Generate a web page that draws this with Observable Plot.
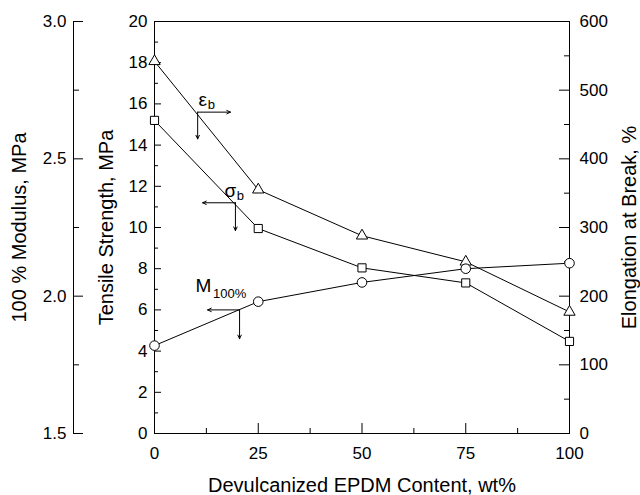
<!DOCTYPE html>
<html>
<head>
<meta charset="utf-8">
<script src="https://cdn.jsdelivr.net/npm/d3@7"></script>
<script src="https://cdn.jsdelivr.net/npm/@observablehq/plot@0.6"></script>
<style>
  html, body { margin: 0; padding: 0; background: #fff; }
  svg { display: block; }
</style>
</head>
<body>
<div id="chart"></div>
<script>
// ---- data ----
const content = [0, 25, 50, 75, 100];                 // Devulcanized EPDM content, wt%
const elongation = [542, 355, 288, 250, 177];         // Elongation at break, % (right axis)
const tensile = [15.2, 9.95, 8.04, 7.31, 4.47];       // Tensile strength, MPa (left inner axis)
const modulus = [1.82, 1.98, 2.05, 2.10, 2.12];       // 100 % modulus, MPa (left outer axis)

// ---- tick labels ----
const xTicks = [0, 25, 50, 75, 100];
const xMinor = [12.5, 37.5, 62.5, 87.5];
const tensileTicks = [0, 2, 4, 6, 8, 10, 12, 14, 16, 18, 20];
const tensileMinor = [1, 3, 5, 7, 9, 11, 13, 15, 17, 19];
const elongTicks = [0, 100, 200, 300, 400, 500, 600];
const elongMinor = [50, 150, 250, 350, 450, 550];
const modTicks = [1.5, 2.0, 2.5, 3.0];
const modMinor = [1.75, 2.25, 2.75];

// ---- annotations (labels + arrows, in data units of x / tensile) ----
const annLabels = [
  {x: 11.6, y: 16.2, main: "\u03b5", sx: 13.7, sy: 15.95, sub: "b"},
  {x: 18.3, y: 11.8, main: "\u03c3", sx: 20.7, sy: 11.55, sub: "b"},
  {x: 11.8, y: 7.18, main: "M", sx: 18.1, sy: 6.8, sub: "100%"}
];
const annArrows = [
  {x1: 10.4, y1: 15.6, x2: 18.3, y2: 15.6},
  {x1: 10.4, y1: 15.6, x2: 10.4, y2: 14.3},
  {x1: 19.5, y1: 11.2, x2: 11.6, y2: 11.2},
  {x1: 19.5, y1: 11.2, x2: 19.5, y2: 9.85},
  {x1: 20.5, y1: 6.0, x2: 12.8, y2: 6.0},
  {x1: 20.5, y1: 6.0, x2: 20.5, y2: 4.6}
];

// ---- conversions to the tensile (primary y) scale ----
const elongToT = v => v / 30;
const modToT = v => (v - 1.5) / 1.5 * 20;

const rows = content.map((c, i) => ({
  x: c,
  eb: elongToT(elongation[i]),
  sb: tensile[i],
  m: modToT(modulus[i])
}));

const W = 640, H = 495;
const mL = 154, mR = 71, mT = 21, mB = 62;
const frameW = W - mL - mR, frameH = H - mT - mB;
// pixel lengths expressed in scale units (for tick lengths / outer axis position)
const pxX = p => p / frameW * 100;
const pxY = p => p / frameH * 20;
const modAxisX = pxX(73 - mL);
const font = "'Liberation Sans', Arial, Helvetica, sans-serif";

const chart = Plot.plot({
  width: W, height: H,
  marginLeft: mL, marginRight: mR, marginTop: mT, marginBottom: mB,
  x: {domain: [0, 100], axis: null},
  y: {domain: [0, 20], axis: null},
  style: {fontFamily: font, background: "white", color: "black"},
  marks: [
    Plot.frame({stroke: "black", strokeWidth: 1}),

    // x ticks (inward)
    Plot.ruleX(xTicks, {x: d => d, y1: 0, y2: pxY(10), stroke: "black"}),
    Plot.ruleX(xMinor, {x: d => d, y1: 0, y2: pxY(5), stroke: "black"}),
    Plot.text(xTicks, {x: d => d, frameAnchor: "bottom", text: d => String(d), lineAnchor: "top", dy: 13, fontSize: 17}),
    Plot.text(["Devulcanized EPDM Content, wt%"], {frameAnchor: "bottom", text: d => d, lineAnchor: "middle", dy: 52, fontSize: 20}),

    // tensile axis (left, inward ticks)
    Plot.ruleY(tensileTicks, {y: d => d, x1: 0, x2: pxX(7), stroke: "black"}),
    Plot.ruleY(tensileMinor, {y: d => d, x1: 0, x2: pxX(4), stroke: "black"}),
    Plot.text(tensileTicks, {y: d => d, frameAnchor: "left", text: d => String(d), textAnchor: "end", dx: -7, fontSize: 17}),
    Plot.text(["Tensile Strength, MPa"], {frameAnchor: "left", text: d => d, rotate: -90, textAnchor: "middle", dx: -48, fontSize: 20}),

    // elongation axis (right, inward ticks)
    Plot.ruleY(elongTicks, {y: d => elongToT(d), x1: 100 - pxX(10), x2: 100, stroke: "black"}),
    Plot.ruleY(elongMinor, {y: d => elongToT(d), x1: 100 - pxX(5), x2: 100, stroke: "black"}),
    Plot.text(elongTicks, {y: d => elongToT(d), frameAnchor: "right", text: d => String(d), textAnchor: "start", dx: 10, fontSize: 17}),
    Plot.text(["Elongation at Break, %"], {frameAnchor: "right", text: d => d, rotate: -90, textAnchor: "middle", dx: 60, dy: 0, fontSize: 20}),

    // modulus axis (outer left)
    Plot.ruleX([modAxisX], {x: d => d, y1: 0, y2: 20, stroke: "black"}),
    Plot.ruleY(modTicks, {y: d => modToT(d), x1: modAxisX, x2: modAxisX + pxX(10), stroke: "black"}),
    Plot.ruleY(modMinor, {y: d => modToT(d), x1: modAxisX, x2: modAxisX + pxX(6), stroke: "black"}),
    Plot.text(modTicks, {y: d => modToT(d), x: () => modAxisX, text: d => d.toFixed(1), textAnchor: "end", dx: -7, fontSize: 17}),
    Plot.text(["100 % Modulus, MPa"], {frameAnchor: "left", text: d => d, rotate: -90, textAnchor: "middle", dx: -135, fontSize: 20}),

    // series lines
    Plot.line(rows, {x: "x", y: "eb", stroke: "black", strokeWidth: 1}),
    Plot.line(rows, {x: "x", y: "sb", stroke: "black", strokeWidth: 1}),
    Plot.line(rows, {x: "x", y: "m", stroke: "black", strokeWidth: 1}),

    // annotations
    Plot.arrow(annArrows, {x1: "x1", y1: "y1", x2: "x2", y2: "y2", stroke: "black", strokeWidth: 1, headLength: 6, headAngle: 50}),
    Plot.text(annLabels, {x: "x", y: "y", text: "main", fontSize: 19}),
    Plot.text(annLabels, {x: "sx", y: "sy", text: "sub", fontSize: 13}),

    // markers
    Plot.dot(rows, {x: "x", y: "eb", symbol: "triangle", r: 4.2, fill: "white", stroke: "black", strokeWidth: 1}),
    Plot.dot(rows, {x: "x", y: "sb", symbol: "square", r: 4.6, fill: "white", stroke: "black", strokeWidth: 1}),
    Plot.dot(rows, {x: "x", y: "m", symbol: "circle", r: 4.8, fill: "white", stroke: "black", strokeWidth: 1})
  ]
});

document.getElementById("chart").appendChild(chart);
</script>
</body>
</html>
